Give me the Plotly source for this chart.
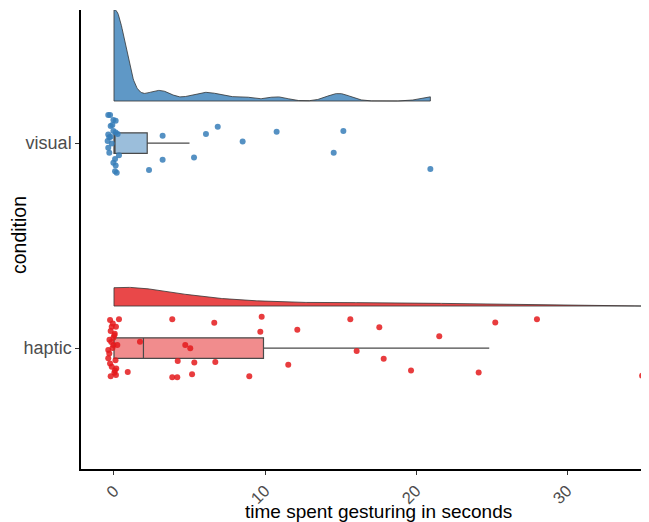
import numpy as np
import plotly.graph_objects as go

# ---------------- data ----------------
categories = ["haptic", "visual"]
cat_pos = {"haptic": 1, "visual": 2}

visual_time = [-0.38, -0.26, -0.04, 0.11, -0.11, -0.22, -0.04, 0.11, -0.38, 0.24, -0.22,
               -0.31, -0.42, -0.15, -0.38, -0.31, 0.33, 0.07, -0.04, 0.11, 0.07, 0.18,
               3.22, 6.09, 6.87, 8.52, 10.77, 15.19, 3.22, 5.30, 2.32, 14.55, 20.95]
visual_jitter = [0.137, 0.137, 0.112, 0.109, 0.088, 0.083, 0.059, 0.052, 0.042, 0.044, 0.031,
                 0.028, 0.010, -0.002, -0.023, -0.047, -0.059, -0.078, -0.096, -0.110, -0.137, -0.145,
                 0.036, 0.044, 0.080, 0.008, 0.055, 0.059, -0.081, -0.070, -0.132, -0.047, -0.127]

haptic_time = [-0.26, 0.33, -0.15, 0.13, -0.22, 0.02, -0.04, 0.22, -0.04, -0.38, -0.31,
               -0.38, -0.26, -0.15, 0.02, -0.22, 0.13, 0.05, -0.10, 0.15, -0.30,
               -0.08, 0.10, -0.18, 0.06,
               3.86, 6.64, 9.78, 9.69, 12.14, 15.65, 1.72, 4.72, 5.05, 16.07, 4.22,
               5.32, 6.71, 11.54, 0.91, 3.86, 4.19, 5.17, 8.96, 17.57, 21.54, 25.25,
               28.01, 17.86, 19.67, 24.15, 34.97]
haptic_jitter = [0.137, 0.141, 0.104, 0.104, 0.083, 0.063, 0.050, 0.015, 0.015, -0.010, -0.026,
                 -0.050, -0.075, -0.091, -0.120, -0.137, -0.132, 0.070, 0.000, -0.100, 0.040,
                 0.120, -0.060, 0.030, -0.110,
                 0.141, 0.123, 0.153, 0.080, 0.089, 0.140, 0.031, 0.015, -0.001, -0.015, -0.063,
                 -0.070, -0.068, -0.081, -0.117, -0.143, -0.143, -0.128, -0.137, 0.101, 0.057, 0.125,
                 0.140, -0.052, -0.109, -0.119, -0.135]

# box statistics
box_q1 = {"visual": 0.0, "haptic": 0.0}
box_median = {"visual": 0.0, "haptic": 1.95}
box_q3 = {"visual": 2.2, "haptic": 9.9}
box_lower = {"visual": 0.0, "haptic": 0.0}
box_upper = {"visual": 5.0, "haptic": 24.85}

# kernel bandwidths estimated from the drawn density shapes
density_bw = {"visual": 0.7, "haptic": 3.0}

x_ticks = [0, 10, 20, 30]
x_title = "time spent gesturing in seconds"
y_title = "condition"

# ---------------- style ----------------
col = {"visual": (55, 126, 184), "haptic": (228, 26, 28)}
def rgba(c, a):
    return "rgba(%d,%d,%d,%.2f)" % (c[0], c[1], c[2], a)

series = {"visual": (visual_time, visual_jitter), "haptic": (haptic_time, haptic_jitter)}

def kde(vals, bw):
    v = np.clip(np.asarray(vals, float), 0, None)
    n = len(v)
    g = np.linspace(v.min(), v.max(), 512)
    d = np.exp(-0.5 * ((g[:, None] - v[None, :]) / bw) ** 2).sum(1) / (n * bw * np.sqrt(2 * np.pi))
    return g, d

dens = {k: kde(series[k][0], density_bw[k]) for k in categories}
scale = 0.445 / dens["visual"][1].max()

fig = go.Figure()
for k in categories:
    base = cat_pos[k] + 0.205
    g, d = dens[k]
    xs = np.concatenate([g, g[::-1], g[:1]])
    ys = np.concatenate([base + d * scale, np.full(len(g), base), [base + d[0] * scale]])
    fig.add_trace(go.Scatter(x=xs, y=ys, mode="lines", fill="toself",
                             fillcolor=rgba(col[k], 0.8),
                             line=dict(color="#333333", width=0.8),
                             hoverinfo="skip", showlegend=False))

for k in categories:
    t, j = series[k]
    fig.add_trace(go.Scatter(x=t, y=[cat_pos[k] + v for v in j], mode="markers",
                             marker=dict(color=rgba(col[k], 0.85), size=6),
                             showlegend=False))

for k in categories:
    fig.add_trace(go.Box(y=[cat_pos[k]], orientation="h",
                         q1=[box_q1[k]], median=[box_median[k]], q3=[box_q3[k]],
                         lowerfence=[box_lower[k]], upperfence=[box_upper[k]],
                         width=0.1, whiskerwidth=0, boxpoints=False,
                         fillcolor=rgba(col[k], 0.5),
                         line=dict(color="#4a4a4a", width=1.2),
                         showlegend=False))

# page body has an 8px margin, so the figure is 8px smaller and margins shifted
fig.update_layout(
    width=641, height=514,
    margin=dict(l=73, r=0, t=2, b=53),
    paper_bgcolor="white", plot_bgcolor="white",
    boxmode="overlay",
    font=dict(family="Liberation Sans, Arial, sans-serif"),
    xaxis=dict(range=[-2.185, 35.43], tickvals=x_ticks, ticktext=[str(v) for v in x_ticks],
               tickangle=-45, ticks="outside", ticklen=4, tickcolor="#333333",
               tickfont=dict(size=16.5, color="#4d4d4d"), automargin=False,
               showline=True, linecolor="black", linewidth=1.5, showgrid=False, zeroline=False),
    yaxis=dict(range=[0.41, 2.649], tickvals=[cat_pos[c] for c in categories], ticktext=categories,
               ticks="outside", ticklen=4, tickcolor="#333333",
               tickfont=dict(size=18, color="#4d4d4d"), automargin=False,
               showline=True, linecolor="black", linewidth=1.5, showgrid=False, zeroline=False),
    annotations=[
        dict(text=x_title, xref="paper", yref="paper", x=(378 - 81) / 568, y=0,
             xanchor="center", yanchor="middle", yshift=-42, showarrow=False,
             font=dict(size=19, color="black")),
        dict(text=y_title, xref="paper", yref="paper", x=0, y=(469 - 235) / 459,
             xanchor="center", yanchor="middle", xshift=-62, textangle=-90, showarrow=False,
             font=dict(size=19.5, color="black")),
    ],
)

fig.write_html("out.html")
